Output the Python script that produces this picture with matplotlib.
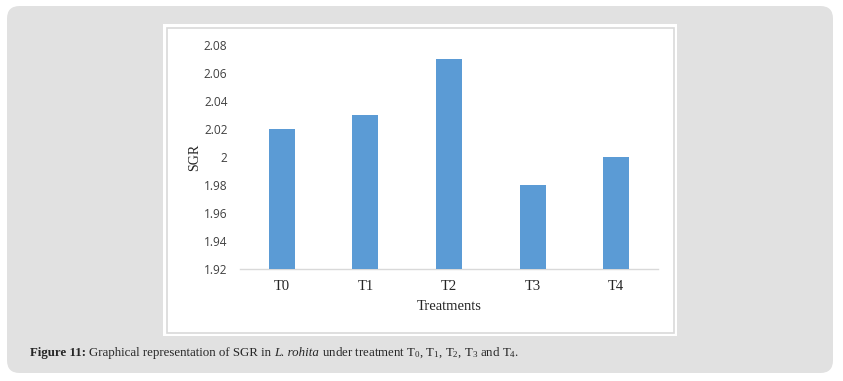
import matplotlib
matplotlib.use("Agg")
import matplotlib.pyplot as plt
from matplotlib.patches import FancyBboxPatch, Rectangle

categories = ["T0", "T1", "T2", "T3", "T4"]
sgr = [2.02, 2.03, 2.07, 1.98, 2.00]
yticks = [1.92, 1.94, 1.96, 1.98, 2.00, 2.02, 2.04, 2.06, 2.08]
ytick_labels = ["1.92", "1.94", "1.96", "1.98", "2", "2.02", "2.04", "2.06", "2.08"]

plt.rcParams['mathtext.fontset'] = 'custom'
plt.rcParams['mathtext.rm'] = 'Liberation Serif'
plt.rcParams['mathtext.it'] = 'Liberation Serif:italic'
plt.rcParams['mathtext.bf'] = 'Liberation Serif:bold'

W, H = 843, 381
fig = plt.figure(figsize=(W / 100, H / 100), dpi=100, facecolor="white")

def fx(px):
    return px / W

def fy(py):
    return 1 - py / H

# grey rounded panel
panel = FancyBboxPatch((fx(7), fy(373)), fx(833 - 7), (373 - 6) / H,
                       boxstyle="round,pad=0,rounding_size=0.015",
                       transform=fig.transFigure, facecolor="#e1e1e1",
                       edgecolor="none", zorder=0, mutation_aspect=W / H)
fig.patches.append(panel)

# white chart image
fig.patches.append(Rectangle((fx(163), fy(336)), fx(677 - 163), (336 - 24) / H,
                             transform=fig.transFigure, facecolor="white",
                             edgecolor="none", zorder=1))
fig.patches.append(Rectangle((fx(166.5), fy(332.5)), fx(673.5 - 166.5), (332.5 - 27.5) / H,
                             transform=fig.transFigure, facecolor="none",
                             edgecolor="#d9d9d9", linewidth=1.2, zorder=2))

ax = fig.add_axes([fx(240), fy(269), fx(658 - 240), (269 - 45) / H])
ax.set_zorder(5)
ax.set_facecolor("none")
ax.bar(range(len(categories)), sgr, width=0.31, color="#5b9bd5", zorder=3)
ax.set_ylim(1.92, 2.08)
ax.set_xlim(-0.5, len(categories) - 0.5)
ax.set_yticks(yticks)
ax.set_yticklabels(ytick_labels, family="Open Sans", fontsize=8.6, color="#404040")
ax.set_xticks(range(len(categories)))
ax.set_xticklabels(categories, family="Liberation Serif", fontsize=10.5, color="#262626")
ax.tick_params(axis="y", length=0, pad=9)
ax.tick_params(axis="x", length=0, pad=8)
for s in ["top", "right", "left"]:
    ax.spines[s].set_visible(False)
ax.spines["bottom"].set_color("#d9d9d9")
ax.spines["bottom"].set_linewidth(1.0)
ax.set_xlabel("Treatments", family="Liberation Serif", fontsize=10.5, color="#262626", labelpad=5)
ax.set_ylabel("SGR", family="Liberation Serif", fontsize=10, color="#262626", labelpad=2)

# caption built from pieces
pieces = [
    ("Figure 11: ", "bold", "normal"),
    ("Graphical representation of SGR in ", "normal", "normal"),
    ("L. rohita", "normal", "italic"),
    (" under treatment T$_{0}$, T$_{1}$, T$_{2}$, T$_{3}$ and T$_{4}$.", "normal", "normal"),
]
fig.canvas.draw()
renderer = fig.canvas.get_renderer()
x = 30
for txt, weight, style in pieces:
    t = fig.text(fx(x), fy(356), txt, family="Liberation Serif", fontsize=9.3,
                 weight=weight, style=style, color="#262626",
                 va="baseline", ha="left", zorder=6)
    bb = t.get_window_extent(renderer=renderer)
    x += bb.width

fig.savefig("out.png", dpi=100, facecolor="white")
